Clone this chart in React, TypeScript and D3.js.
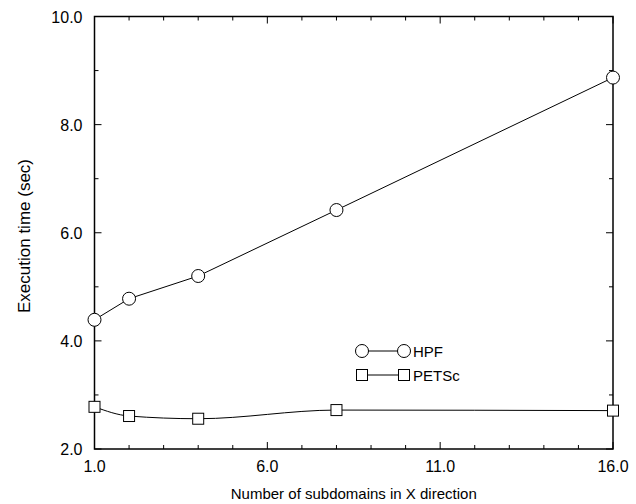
import React from 'react';
import * as d3 from 'd3';

// data
const subdomains = [1, 2, 4, 8, 16];
const hpfTimes = [4.39, 4.78, 5.2, 6.42, 8.87];
const petscTimes = [2.78, 2.61, 2.56, 2.72, 2.71];
const xTickValues = [1, 6, 11, 16];
const yTickValues = [2, 4, 6, 8, 10];

const width = 636;
const height = 504;
const margin = { top: 16.5, right: 23, bottom: 55, left: 94.5 };

const font = 'Arial, "Liberation Sans", Helvetica, sans-serif';

const App = () => {
  const x = d3.scaleLinear().domain([1, 16]).range([margin.left, width - margin.right]);
  const y = d3.scaleLinear().domain([2, 10]).range([height - margin.bottom, margin.top]);

  const hpf = subdomains.map((d, i) => [d, hpfTimes[i]] as [number, number]);
  const petsc = subdomains.map((d, i) => [d, petscTimes[i]] as [number, number]);

  const straight = d3.line<[number, number]>().x(d => x(d[0])).y(d => y(d[1]));
  const smooth = d3.line<[number, number]>().x(d => x(d[0])).y(d => y(d[1])).curve(d3.curveMonotoneX);

  const x0 = x.range()[0], x1 = x.range()[1];
  const y0 = y.range()[0], y1 = y.range()[1];

  const xMinor = d3.range(1, 17, 1);
  const yMinor = d3.range(2, 10.01, 1);

  const square = (cx: number, cy: number, k: string) => (
    <rect key={k} x={cx - 5.5} y={cy - 5.5} width={11} height={11} fill="white" stroke="black" strokeWidth={1} />
  );
  const circle = (cx: number, cy: number, k: string) => (
    <circle key={k} cx={cx} cy={cy} r={6.5} fill="white" stroke="black" strokeWidth={1} />
  );

  return (
    <div style={{ position: 'absolute', left: 0, top: 0 }}>
      <svg width={width} height={height} style={{ display: 'block', background: 'white' }}>
        {/* ticks on all four sides, pointing in */}
        <g stroke="black" strokeWidth={1}>
          {xMinor.map(v => {
            const len = xTickValues.includes(v) ? 7 : 4;
            return (
              <g key={'xm' + v}>
                <line x1={x(v)} x2={x(v)} y1={y0} y2={y0 - len} />
                <line x1={x(v)} x2={x(v)} y1={y1} y2={y1 + len} />
              </g>
            );
          })}
          {yMinor.map(v => {
            const len = yTickValues.includes(v) ? 7 : 4;
            return (
              <g key={'ym' + v}>
                <line x1={x0} x2={x0 + len} y1={y(v)} y2={y(v)} />
                <line x1={x1} x2={x1 - len} y1={y(v)} y2={y(v)} />
              </g>
            );
          })}
        </g>
        <rect x={x0} y={y1} width={x1 - x0} height={y0 - y1} fill="none" stroke="black" strokeWidth={1.5} />

        {/* tick labels */}
        <g fontFamily={font} fontSize={16} fill="black">
          {xTickValues.map(v => (
            <text key={'xl' + v} x={x(v)} y={y0 + 23} textAnchor="middle">{v.toFixed(1)}</text>
          ))}
          {yTickValues.map(v => (
            <text key={'yl' + v} x={x0 - 12} y={y(v) + 6} textAnchor="end">{v.toFixed(1)}</text>
          ))}
        </g>

        {/* axis titles */}
        <text x={(x0 + x1) / 2} y={height - 5} textAnchor="middle" fontFamily={font} fontSize={15}>
          Number of subdomains in X direction
        </text>
        <text transform={`translate(30, 236) rotate(-90)`} textAnchor="middle" fontFamily={font} fontSize={17}>
          Execution time (sec)
        </text>

        {/* series */}
        <path d={straight(hpf) ?? ''} fill="none" stroke="black" strokeWidth={1} />
        <path d={smooth(petsc) ?? ''} fill="none" stroke="black" strokeWidth={1} />
        {hpf.map((d, i) => circle(x(d[0]), y(d[1]), 'c' + i))}
        {petsc.map((d, i) => square(x(d[0]), y(d[1]), 's' + i))}

        {/* legend */}
        <g>
          <line x1={362} x2={404} y1={351} y2={351} stroke="black" strokeWidth={1} />
          {circle(362, 351, 'lc0')}
          {circle(404, 351, 'lc1')}
          <text x={413} y={356.5} fontFamily={font} fontSize={15}>HPF</text>
          <line x1={362} x2={404} y1={375} y2={375} stroke="black" strokeWidth={1} />
          {square(362, 375, 'ls0')}
          {square(404, 375, 'ls1')}
          <text x={413} y={380.5} fontFamily={font} fontSize={15}>PETSc</text>
        </g>
      </svg>
    </div>
  );
};

export default App;
